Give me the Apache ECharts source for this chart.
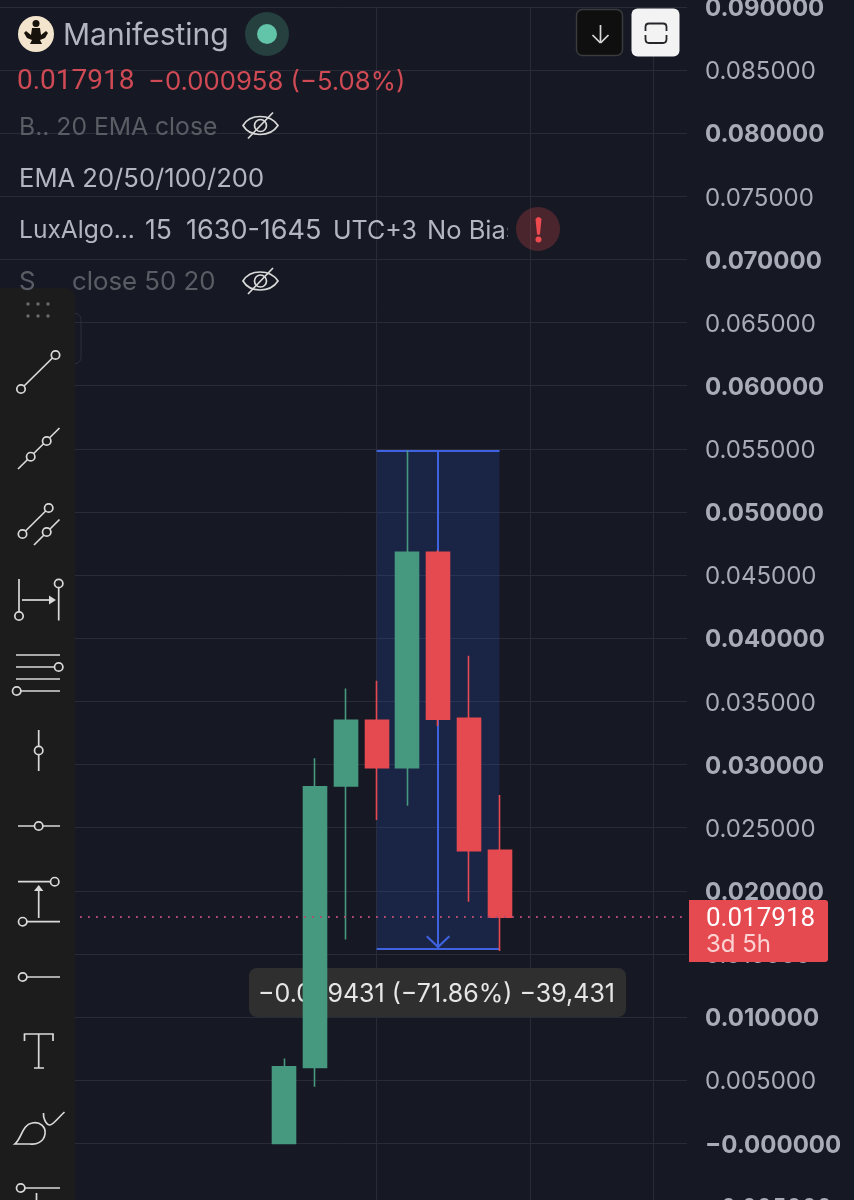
<!DOCTYPE html>
<html>
<head>
<meta charset="utf-8">
<style>html,body{margin:0;padding:0;background:#161923}#c{width:854px;height:1200px}</style>
<script src="https://cdn.jsdelivr.net/npm/echarts@6/dist/echarts.min.js"></script>
</head>
<body>
<div id="c"></div>
<script>
// ---- data ----
const categories = ['p0','p1','p2','p3','p4','p5','p6','p7','p8','c1','c2','c3','c4','c5','c6','c7','c8','n1','n2','n3','n4','n5'];
// candles as open, close, low, high
const candles = [
  [0.00000, 0.00607, 0.00000, 0.00673],
  [0.00602, 0.02824, 0.00448, 0.03049],
  [0.02830, 0.03350, 0.01615, 0.03603],
  [0.03350, 0.02975, 0.02560, 0.03663],
  [0.02975, 0.04680, 0.02674, 0.054872],
  [0.04680, 0.03360, 0.03305, 0.04698],
  [0.03366, 0.02317, 0.01913, 0.03861],
  [0.02320, 0.017918, 0.01523, 0.02758]
];
const firstCandle = 'c1';
const verticalGridCategories = ['c4','n1','n5'];
const lastPrice = 0.017918;
const measureFrom = 'c4', measureMid = 'c6', measureTo = 'c8';
const measureTop = 0.054872, measureBottom = 0.015441;
const yMin = -0.005, yMax = 0.09, yStep = 0.005;

const headerRows = {
  name: 'Manifesting',
  price: '0.017918',
  change: '−0.000958 (−5.08%)',
  ind1: 'B.. 20 EMA close',
  ind2: 'EMA 20/50/100/200',
  ind4a: 'S',
  ind4b: 'close 50 20',
  measure: '−0.039431 (−71.86%) −39,431',
  tag1: '0.017918',
  tag2: '3d 5h'
};
// words of the LuxAlgo row: text, left edge, font size
const luxRow = [
  ['LuxAlgo...',19,24.6],
  ['15',145,26.5],
  ['1630-1645',186,27],
  ['UTC+3',333,25],
  ['No Bias',427,25.5]
];

// ---- colours ----
const BG='#161923', GRID='#292c37', GREEN='#46997f', RED='#e54a50', BLUE='#3f63e0', LABEL='#a8acb8', TOOL='#1c1c1c', ICON='#d9d9d9';
const FONT='Inter, "Noto Sans", sans-serif';
const TAB='Roboto, "Noto Sans", sans-serif';

const offset = categories.indexOf(firstCandle);
const seriesData = categories.map((c,i)=> candles[i-offset] || ['-','-','-','-']);

// ---- chrome helpers ----
const Z=20, SW=1.7;
let pathCount=0;
const ln=(x1,y1,x2,y2)=>({type:'line',z:Z,shape:{x1,y1,x2,y2},style:{stroke:ICON,lineWidth:SW,fill:null}});
const dot=(x,y,r=4.2)=>({type:'circle',z:Z+1,shape:{cx:x,cy:y,r},style:{stroke:ICON,lineWidth:SW,fill:TOOL}});
const pth=(d,style,z=Z)=>{
  const name='chromePath'+(pathCount++);
  echarts.graphic.registerShape(name,echarts.graphic.extendPath(d,{}));
  return {type:name,z,shape:{},style};
};
const txt=(x,y,text,size,fill,z=Z,family=FONT)=>({type:'text',z,style:{x,y,text,fill,font:'400 '+size+'px '+family,verticalAlign:'middle',align:'left'}});
const eye=(cy)=>[
  pth(`M243 ${cy} C250 ${cy-12} 270 ${cy-12} 278 ${cy} C270 ${cy+12} 250 ${cy+12} 243 ${cy} Z`,{stroke:ICON,lineWidth:SW,fill:null}),
  {type:'circle',z:Z,shape:{cx:260.5,cy,r:6},style:{stroke:ICON,lineWidth:SW,fill:null}},
  ln(248,cy+13,273,cy-13)
];

const chrome=[
  // elements behind candles
  {type:'rect',z:1.5,shape:{x:249,y:968,width:377,height:49,r:8},style:{fill:'#2f2f30'}},
  txt(258,994.5,headerRows.measure,25,'#e6e6e6',1.6),
  // header
  {type:'circle',z:Z,shape:{cx:36,cy:34,r:18},style:{fill:'#f3e5cd'}},
  {type:'circle',z:Z,shape:{cx:36,cy:23.5,r:3.5},style:{fill:'#17120c'}},
  pth('M32 28 L40 28 L41 35 L46 31 L48 33 L45 38 L40 40 L42 44 L30 44 L32 40 L27 38 L24 33 L26 31 L31 35 Z',{fill:'#17120c'}),
  txt(63,36,headerRows.name,30,'#b3b6c2'),
  {type:'circle',z:Z,shape:{cx:267,cy:34,r:22},style:{fill:'#25403f'}},
  {type:'circle',z:Z,shape:{cx:267,cy:34,r:10},style:{fill:'#62c4a8'}},
  txt(17,82,headerRows.price,28,'#cf4a54',Z,TAB),
  txt(148,82.5,headerRows.change,25.7,'#cf4a54'),
  txt(19,128,headerRows.ind1,24.7,'#5b5d65'),
  ...eye(125.5),
  txt(19,179.5,headerRows.ind2,25.6,'#b3b6c2'),
  ...luxRow.map(w=>txt(w[1],231,w[0],w[2],'#b3b6c2')),
  {type:'rect',z:Z+1,shape:{x:508,y:214,width:12,height:32},style:{fill:BG}},
  {type:'circle',z:Z+2,shape:{cx:538,cy:229,r:22},style:{fill:'rgba(229,72,79,0.26)'}},
  pth('M535.5 219 Q538.5 215 541.5 219 L540 234 Q538.5 236 537 234 Z',{fill:'#ef4a50'},Z+3),
  {type:'circle',z:Z+3,shape:{cx:538.5,cy:239.5,r:3},style:{fill:'#ef4a50'}},
  txt(19,282.5,headerRows.ind4a,25.8,'#5b5d65'),
  txt(72,282.5,headerRows.ind4b,25.8,'#5b5d65'),
  ...eye(281),
  // top buttons
  {type:'rect',z:Z,shape:{x:576.5,y:9.5,width:46,height:46,r:6},style:{fill:'#0f0f0f',stroke:'#3a3b3e',lineWidth:1.5}},
  ln(600.5,25,600.5,43),ln(592.5,35,600.5,43),ln(608.5,35,600.5,43),
  {type:'rect',z:Z,shape:{x:631.5,y:8.5,width:48,height:48,r:6},style:{fill:'#f3f3f3'}},
  pth('M645.5 31 L645.5 27 Q645.5 23.5 649 23.5 L663 23.5 Q666.5 23.5 666.5 27 L666.5 31 M645.5 35 L645.5 39 Q645.5 43 649 43 L663 43 Q666.5 43 666.5 39 L666.5 35',{stroke:'#26262a',lineWidth:1.8,fill:null},Z+1),
  // price tag
  pth('M689 900 L825 900 Q828 900 828 903 L828 959 Q828 962 825 962 L689 962 Z',{fill:RED},Z),
  txt(706,919.5,headerRows.tag1,26,'#ffffff',Z+1,TAB),
  txt(706,945,headerRows.tag2,24,'#fcd2d3',Z+1),
  // toolbar ghost button + toolbar
  {type:'rect',z:Z-2,shape:{x:40,y:313.5,width:41,height:50,r:6},style:{fill:null,stroke:'#2d2f39',lineWidth:1}},
  pth('M0 288 L65 288 Q75 288 75 298 L75 1200 L0 1200 Z',{fill:TOOL},Z-1),
  ...[28,38,48].flatMap(x=>[304,316].map(y=>({type:'circle',z:Z,shape:{cx:x,cy:y,r:1.7},style:{fill:'#6b6b6b'}}))),
  // 1 trend line
  ln(21,389,55.5,355),dot(21,389),dot(55.5,355),
  // 2 ray
  ln(18,469,59.5,428),dot(30.7,456.7),dot(46.7,441),
  // 3 parallel
  ln(22.5,534,48.7,508),dot(22.5,534),dot(48.7,508),ln(34,545,59.5,519.5),dot(46.7,532),
  // 4 horizontal measure
  ln(19,579,19,612),dot(19,616),ln(58.7,587,58.7,620.5),dot(58.7,583.5),ln(22,600,53,600),
  pth('M56 600 L49 595.5 L49 604.5 Z',{fill:ICON}),
  // 5 fib
  ln(16,655,60,655),ln(16,667,55,667),dot(58.7,667),ln(16,679,60,679),ln(21,691,60,691),dot(16.7,691),
  // 6 vertical
  ln(38.7,730,38.7,771),dot(38.7,750.5),
  // 7 horizontal
  ln(18,826,60,826),dot(38.7,826),
  // 8 vertical measure
  ln(18,881.7,52,881.7),dot(54.7,881.7),ln(27,921.7,60,921.7),dot(22.7,921.7),ln(38.7,918,38.7,890),
  pth('M38.7 885 L34 891 L43.4 891 Z',{fill:ICON}),
  // 9 ray
  ln(27,977,60,977),dot(22.7,977),
  // 10 text
  pth('M24.5 1041 L24.5 1034 L53 1034 L53 1041 M38.7 1034 L38.7 1068 M34 1068 L44 1068',{stroke:ICON,lineWidth:SW,fill:null}),
  // 11 brush
  pth('M15 1144 C22 1138 22 1125 32 1123 C40 1121 46 1127 45 1134 C44 1142 36 1145 30 1144 Z',{stroke:ICON,lineWidth:SW,fill:null}),
  pth('M43.5 1113 C43 1118 46 1125 50 1125 C53 1125 58 1118 64.5 1112',{stroke:ICON,lineWidth:SW,fill:null}),
  // 12 anchored
  ln(25,1188,60,1188),dot(20.7,1188),ln(36.5,1193,36.5,1200)
];

const fmtY=v=>{
  const r=Math.round(v/yStep);
  const s=Math.abs(r*yStep).toFixed(6);
  const t=(r<=0?'−':'')+s;
  return (r%2===0 && r>=0)?`{b|${t}}`:`{n|${t}}`;
};

const chart=echarts.init(document.getElementById('c'),null,{width:854,height:1200,renderer:'canvas'});
const gridTop=6.9, gridH=1199.6;
chart.setOption({
  animation:false,
  backgroundColor:BG,
  grid:[
    {left:0,width:687,top:gridTop,height:gridH,show:false,outerBoundsMode:'none'},
    {left:8,width:645.1,top:gridTop,height:gridH,show:false,outerBoundsMode:'none'}
  ],
  xAxis:[
    {gridIndex:0,type:'value',min:0,max:1,show:false,splitLine:{show:false}},
    {gridIndex:1,type:'category',data:categories,boundaryGap:false,
     axisLine:{show:false},axisTick:{show:false},axisLabel:{show:false},
     splitLine:{show:true,interval:(i,name)=>verticalGridCategories.includes(name),lineStyle:{color:GRID,width:1}}}
  ],
  yAxis:[
    {gridIndex:0,type:'value',position:'right',min:yMin,max:yMax,interval:yStep,
     axisLine:{show:false},axisTick:{show:false},
     splitLine:{show:true,lineStyle:{color:GRID,width:1}},
     axisLabel:{margin:18,formatter:fmtY,
       rich:{
         n:{fontFamily:FONT,fontSize:24,fontWeight:400,color:LABEL,padding:[4,0,0,0]},
         b:{fontFamily:FONT,fontSize:24,fontWeight:700,color:LABEL,padding:[4,0,0,0]}
       }}},
    {gridIndex:1,type:'value',min:yMin,max:yMax,interval:yStep,show:false,splitLine:{show:false}}
  ],
  series:[
    {type:'candlestick',xAxisIndex:1,yAxisIndex:1,z:2,barWidth:23.5,silent:true,
     data:seriesData,
     itemStyle:{color:GREEN,color0:RED,borderColor:GREEN,borderColor0:RED,borderWidth:1.6},
     markArea:{silent:true,z:1,itemStyle:{color:'rgba(47,85,205,0.2)'},
       data:[[{coord:[measureFrom,measureTop]},{coord:[measureTo,measureBottom]}]]},
     markLine:{silent:true,z:1,symbol:'none',precision:6,label:{show:false},lineStyle:{color:BLUE,width:2,type:'solid'},
       data:[
         [{coord:[measureFrom,measureTop]},{coord:[measureTo,measureTop]}],
         [{coord:[measureFrom,measureBottom]},{coord:[measureTo,measureBottom]}],
         [{coord:[measureMid,measureTop],symbol:'none'},
          {coord:[measureMid,measureBottom],symbol:'path://M12 13 L24 24.5 L22.6 26 L12 16 L1.4 26 L0 24.5 Z M12 0 L12.02 0 L12 0.02 Z',symbolSize:[24,26]}]
       ]}
    },
    {type:'line',xAxisIndex:0,yAxisIndex:0,data:[],symbol:'none',silent:true,z:6,
     markLine:{silent:true,z:6,symbol:'none',precision:6,label:{show:false},
       lineStyle:{color:'#b04c72',width:1.8,type:[1.8,6.2]},
       data:[{yAxis:lastPrice}]}}
  ],
  graphic:{elements:chrome}
});
</script>
</body>
</html>
